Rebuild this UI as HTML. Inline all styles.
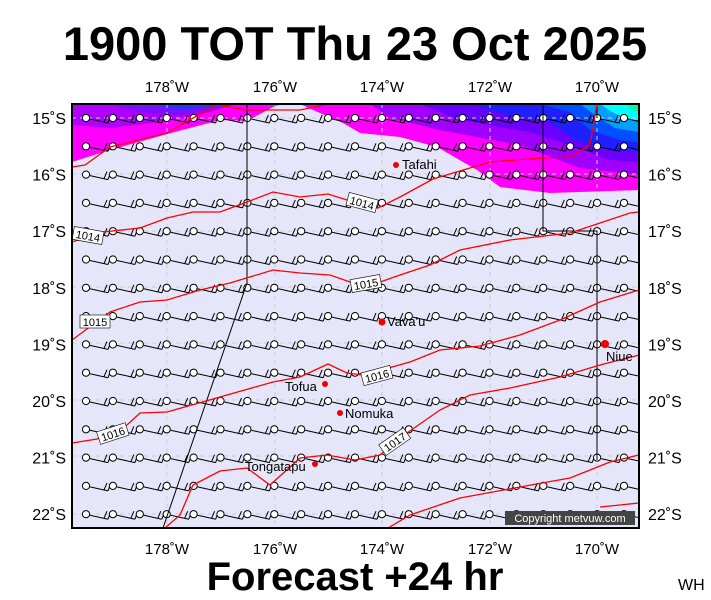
<!DOCTYPE html>
<html><head><meta charset="utf-8"><style>
body{margin:0;background:#fff;width:711px;height:600px;overflow:hidden}
svg{display:block}
text{font-family:"Liberation Sans",sans-serif}
</style></head><body>
<svg id="s" width="711" height="600" viewBox="0 0 711 600" xmlns="http://www.w3.org/2000/svg">
<defs><clipPath id="c"><rect x="72" y="104" width="567" height="424"/></clipPath></defs>
<text x="355" y="60" font-size="47" font-weight="bold" text-anchor="middle">1900 TOT Thu 23 Oct 2025</text>
<text x="355" y="590" font-size="40" font-weight="bold" text-anchor="middle">Forecast +24 hr</text>
<text x="678" y="590" font-size="16">WH</text>
<g clip-path="url(#c)">
<rect x="72" y="104" width="567" height="424" fill="#e6e6fa"/>
<path d="M72,104 L72,162 L110,150 L160,136 L220,120 L247,121 L273,107 L282,104Z" fill="#ff00ff"/>
<path d="M300,104 L313,110 L343,123 L360,133 L400,137 L437,147 L477,170 L500,187 L550,193 L639,190 L639,104Z" fill="#ff00ff"/>
<path d="M72,104 L72,125 L110,128 L160,122 L210,112 L235,104Z" fill="#b000ff"/>
<path d="M110,104 L140,112 L180,115 L220,108 L240,104Z" fill="#7a10ff"/>
<path d="M150,104 L180,110 L215,106 L230,104Z" fill="#3030ff"/>
<path d="M370,104 L390,118 L440,130 L520,145 L580,168 L639,175 L639,104Z" fill="#a000ff"/>
<path d="M420,104 L460,120 L530,132 L570,145 L610,160 L639,162 L639,104Z" fill="#6a00ff"/>
<path d="M470,104 L510,116 L550,122 L575,140 L610,150 L639,152 L639,104Z" fill="#2020ff"/>
<path d="M540,104 L570,112 L590,130 L620,140 L639,142 L639,104Z" fill="#0050ff"/>
<path d="M580,104 L595,115 L615,128 L639,132 L639,104Z" fill="#00a0ff"/>
<path d="M600,104 L612,112 L630,120 L639,120 L639,104Z" fill="#00ffff"/>
<path d="M625,104 L639,114 L639,104Z" fill="#00ff90"/>
<g stroke="#ccc" stroke-width="1" stroke-dasharray="4,4">
<path d="M167,104V528M275,104V528M382,104V528M490,104V528M597,104V528M72,118H639M72,174H639M72,231H639M72,287H639M72,343H639M72,400H639M72,456H639M72,514H639"/>
</g>
<g id="barbs" stroke="#000" stroke-width="1" fill="none"></g>
<g stroke="#000" stroke-width="1" fill="none">
<path d="M163,528 L247,283 L247,104"/>
<path d="M543,104 L543,231 L597,231 L597,460"/>
<path d="M597,104 L597,118"/>
</g>
<g stroke="#f00" stroke-width="1.3" fill="none">
<path d="M72,167 L85,165 L110,147 L167,133 L193,118 L217,105 L247,110 L300,110 L328,104"/>
<path d="M72,242 L103,232 L140,228 L167,218 L193,212 L220,212 L247,202 L273,192 L300,197 L328,194 L347,200 L378,208 L400,197 L433,179 L490,162 L543,158 L570,157 L590,145 L597,104"/>
<path d="M72,340 L110,312 L140,302 L167,300 L200,290 L230,283 L273,270 L300,273 L330,275 L350,282 L380,282 L400,275 L430,265 L460,250 L510,240 L570,233 L630,213 L639,212"/>
<path d="M72,443 L97,439 L127,425 L140,413 L167,412 L220,397 L273,382 L300,377 L328,364 L347,373 L363,375 L410,362 L440,350 L480,346 L520,335 L560,320 L600,302 L639,290"/>
<path d="M165,528 L180,515 L193,485 L220,471 L247,468 L270,485 L300,458 L327,455 L355,460 L380,455 L407,433 L440,410 L470,395 L510,388 L560,377 L600,365 L639,355"/>
<path d="M388,528 L410,515 L460,498 L520,487 L570,478 L610,462 L639,455"/>
<path d="M600,507 L620,505 L639,503"/>
</g>
<g font-size="11" text-anchor="middle">
<g transform="translate(88,236) rotate(10)"><rect x="-15" y="-7" width="30" height="13" fill="#fff" stroke="#000" stroke-width=".6"/><text y="4">1014</text></g>
<g transform="translate(362,203) rotate(15)"><rect x="-15" y="-7" width="30" height="13" fill="#fff" stroke="#000" stroke-width=".6"/><text y="4">1014</text></g>
<g transform="translate(95,322)"><rect x="-15" y="-7" width="30" height="13" fill="#fff" stroke="#000" stroke-width=".6"/><text y="4">1015</text></g>
<g transform="translate(366,284) rotate(-10)"><rect x="-15" y="-7" width="30" height="13" fill="#fff" stroke="#000" stroke-width=".6"/><text y="4">1015</text></g>
<g transform="translate(113,434) rotate(-18)"><rect x="-15" y="-7" width="30" height="13" fill="#fff" stroke="#000" stroke-width=".6"/><text y="4">1016</text></g>
<g transform="translate(377,376) rotate(-15)"><rect x="-15" y="-7" width="30" height="13" fill="#fff" stroke="#000" stroke-width=".6"/><text y="4">1016</text></g>
<g transform="translate(395,442) rotate(-35)"><rect x="-15" y="-7" width="30" height="13" fill="#fff" stroke="#000" stroke-width=".6"/><text y="4">1017</text></g>
</g>
<g fill="#e00">
<circle cx="396" cy="165" r="3"/><circle cx="382" cy="322" r="3.5"/><circle cx="605" cy="344" r="4"/>
<circle cx="325" cy="384" r="3"/><circle cx="340" cy="413" r="3"/><circle cx="315" cy="464" r="3"/>
</g>
<g font-size="13">
<text x="402" y="169">Tafahi</text><text x="387" y="326">Vava'u</text><text x="606" y="361">Niue</text>
<text x="285" y="391">Tofua</text><text x="345" y="418">Nomuka</text><text x="245" y="471">Tongatapu</text>
</g>
<rect x="505" y="511" width="130" height="14" fill="#444"/>
<text x="570" y="522" font-size="11" fill="#fff" text-anchor="middle">Copyright metvuw.com</text>
</g>
<rect x="72" y="104" width="567" height="424" fill="none" stroke="#000" stroke-width="2"/>
<g font-size="15" text-anchor="middle">
<text x="167" y="92">178˚W</text><text x="275" y="92">176˚W</text><text x="382" y="92">174˚W</text><text x="490" y="92">172˚W</text><text x="597" y="92">170˚W</text>
<text x="167" y="554">178˚W</text><text x="275" y="554">176˚W</text><text x="382" y="554">174˚W</text><text x="490" y="554">172˚W</text><text x="597" y="554">170˚W</text>
</g>
<g font-size="16" id="lat"></g>
</svg>
<script>
var g=document.getElementById('barbs'),h='';
for(var r=0;r<15;r++){var y=118+r*28.3;for(var c=0;c<21;c++){var x=86+c*26.9;
h+='<path d="M'+(x+4)+','+(y+1)+' L'+(x+22)+','+(y+5)+' M'+(x+22)+','+(y+5)+' L'+(x+25)+','+(y-3)+' M'+(x+18)+','+(y+4)+' L'+(x+21)+','+(y-3)+'"/>';
h+='<circle cx="'+x+'" cy="'+y+'" r="3.6" fill="#fff"/>';}}
g.innerHTML=h;
var l=document.getElementById('lat'),t='';
for(var i=0;i<8;i++){var yy=118+i*56.6+6;t+='<text x="66" y="'+yy+'" text-anchor="end">'+(15+i)+'˚S</text><text x="648" y="'+yy+'">'+(15+i)+'˚S</text>';}
l.innerHTML=t;
</script>
</body></html>
